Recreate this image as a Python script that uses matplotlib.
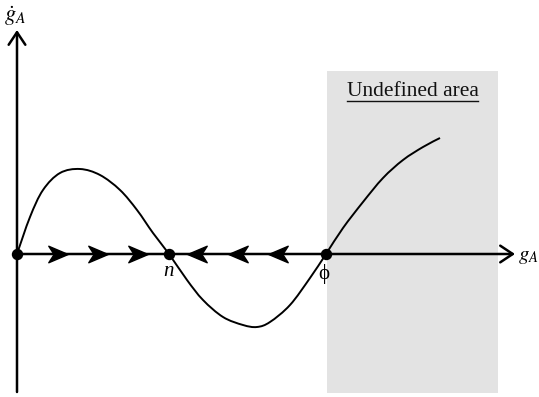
import matplotlib
matplotlib.use("Agg")
import matplotlib.pyplot as plt
from matplotlib.path import Path
from matplotlib.patches import Rectangle, PathPatch
from matplotlib.lines import Line2D

plt.rcParams['mathtext.fontset'] = 'stix'
plt.rcParams['font.family'] = ['Liberation Serif', 'DejaVu Serif']

# ---- data (g_A, dg_A/dt) ----
curve_g = [0, 13, 26, 43, 63, 83, 103, 120, 136, 152, 170, 186, 206, 226, 240,
           253, 273, 293, 309, 326, 346, 366, 386, 406, 423]
curve_gdot = [0, 37, 64, 81, 85, 79, 64, 44, 21, 0, -26, -46, -63, -71, -73,
              -68, -51, -24, 0, 26, 52, 76, 94, 107, 116]
equilibria_g = [0, 152, 309]
equilibria_labels = ['', 'n', 'ϕ']
flow_right_g = [40.5, 80.5, 120.5]
flow_left_g = [180, 221, 261]
undefined_g = [310, 481]
undefined_gdot = [-139, 183]
x_axis_range = [0, 498]
y_axis_range = [-138, 224]

fig = plt.figure(figsize=(5.39, 3.97), dpi=100)
ax = fig.add_axes([0, 0, 1, 1])
ax.set_xlim(-17, 522)
ax.set_ylim(-143, 254)
ax.axis('off')

# undefined area
ax.add_patch(Rectangle((undefined_g[0], undefined_gdot[0]),
                       undefined_g[1] - undefined_g[0],
                       undefined_gdot[1] - undefined_gdot[0],
                       facecolor='#e3e3e3', edgecolor='none', zorder=0))
t = ax.text((undefined_g[0] + undefined_g[1]) / 2, 162, 'Undefined area',
            ha='center', va='center', fontsize=15.5, color='#111111', zorder=3)

# axes with open arrowheads
for xy, xytext in [((x_axis_range[1], 0), (x_axis_range[0], 0)),
                   ((0, y_axis_range[1]), (0, y_axis_range[0]))]:
    ax.annotate('', xy=xy, xytext=xytext,
                arrowprops=dict(arrowstyle='->,head_length=0.45,head_width=0.3',
                                mutation_scale=20, lw=1.8, color='black',
                                shrinkA=0, shrinkB=0), zorder=2)

# curve: smooth path through the read points (Catmull-Rom as cubic Beziers)
pts = list(zip(curve_g, curve_gdot))
verts = [pts[0]]
codes = [Path.MOVETO]
n = len(pts)
for i in range(n - 1):
    p0 = pts[i - 1] if i > 0 else pts[i]
    p1 = pts[i]
    p2 = pts[i + 1]
    p3 = pts[i + 2] if i + 2 < n else pts[i + 1]
    c1 = (p1[0] + (p2[0] - p0[0]) / 6, p1[1] + (p2[1] - p0[1]) / 6)
    c2 = (p2[0] - (p3[0] - p1[0]) / 6, p2[1] - (p3[1] - p1[1]) / 6)
    verts += [c1, c2, p2]
    codes += [Path.CURVE4] * 3
ax.add_patch(PathPatch(Path(verts, codes), facecolor='none',
                       edgecolor='black', lw=1.4, zorder=3))

# flow arrows
mverts = [(1, 0), (-1, 0.85), (-0.45, 0), (-1, -0.85), (1, 0)]
mcodes = [Path.MOVETO, Path.LINETO, Path.LINETO, Path.LINETO, Path.CLOSEPOLY]
right_marker = Path(mverts, mcodes)
left_marker = Path([(-x, y) for x, y in mverts], mcodes)
ax.plot(flow_right_g, [0] * len(flow_right_g), linestyle='none',
        marker=right_marker, markersize=14, color='black', zorder=4)
ax.plot(flow_left_g, [0] * len(flow_left_g), linestyle='none',
        marker=left_marker, markersize=14, color='black', zorder=4)

# equilibria
ax.plot(equilibria_g, [0] * len(equilibria_g), 'o', color='black',
        markersize=7.2, zorder=5)
ax.text(equilibria_g[1], -18, equilibria_labels[1], ha='center', va='center',
        fontsize=15, style='italic', zorder=5)
ax.text(equilibria_g[2] - 2, -20, equilibria_labels[2], ha='center', va='center',
        fontsize=15, zorder=5)

# axis labels
ax.text(-2, 238, r'$\dot{g}_A$', ha='center', va='center', fontsize=16)
ax.text(501, -2, r'$g_A$', ha='left', va='center', fontsize=15)

# underline for the 'Undefined area' label
fig.canvas.draw()
bb = t.get_window_extent()
yline = bb.y0 + 1
fig.add_artist(Line2D([bb.x0 / fig.bbox.width, bb.x1 / fig.bbox.width],
                      [yline / fig.bbox.height, yline / fig.bbox.height],
                      color='#111111', lw=1.0))

fig.savefig('out.png', dpi=100)
